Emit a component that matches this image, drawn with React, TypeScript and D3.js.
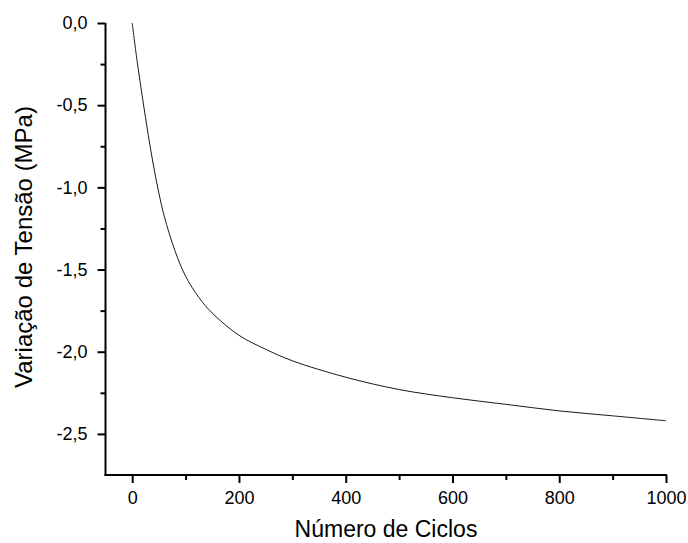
import React, { useEffect, useRef } from "react";
import * as d3 from "d3";

// cycles (x) and stress variation in MPa (y)
const cycles = [0, 10, 20, 30, 40, 50, 60, 80, 100, 125, 150, 200, 250, 300, 400, 500, 600, 700, 800, 900, 1000];
const stress = [0, -0.25, -0.47, -0.68, -0.87, -1.035, -1.175, -1.385, -1.54, -1.67, -1.765, -1.9, -1.985, -2.055, -2.155, -2.23, -2.28, -2.32, -2.36, -2.39, -2.42];

const xTicks = [0, 200, 400, 600, 800, 1000];
const xMinorTicks = [100, 300, 500, 700, 900];
const yTicks = [0, -0.5, -1.0, -1.5, -2.0, -2.5];
const yMinorTicks = [-0.25, -0.75, -1.25, -1.75, -2.25];

const xTitle = "Número de Ciclos";
const yTitle = "Variação de Tensão (MPa)";

const W = 688;
const H = 543;
const FONT = "'Liberation Sans', Arial, sans-serif";

const ptLocale = d3.formatLocale({
	decimal: ",",
	thousands: ".",
	grouping: [3],
	currency: ["", ""],
	minus: "-",
});
const fmtY = ptLocale.format(".1f");

export default function App() {
	const svgRef = useRef<SVGSVGElement>(null);

	useEffect(() => {
		const root = d3.select(svgRef.current);
		root.selectAll("*").remove();

		const left = 105.5;
		const right = 666;
		const top = 23;
		const bottom = 475;

		const x = d3.scaleLinear().domain([-50, 1000]).range([left, right]);
		const y = d3.scaleLinear().domain([-2.75, 0]).range([bottom, top]);

		const data = cycles.map((c, i) => ({ c, s: stress[i] }));

		// curve
		const line = d3
			.line<{ c: number; s: number }>()
			.x((d) => x(d.c))
			.y((d) => y(d.s))
			.curve(d3.curveCatmullRom.alpha(0.5));

		root
			.append("path")
			.datum(data)
			.attr("d", line)
			.attr("fill", "none")
			.attr("stroke", "#1a1a1a")
			.attr("stroke-width", 1);

		// x axis
		const gx = root.append("g").attr("transform", `translate(0,${bottom})`);
		gx.call(
			d3.axisBottom(x).tickValues(xMinorTicks).tickSize(5).tickFormat(() => "")
		);
		gx.call((g) =>
			g
				.append("g")
				.call(d3.axisBottom(x).tickValues(xTicks).tickSize(8).tickPadding(8).tickFormat(d3.format("d")))
		);
		gx.selectAll(".domain").remove();
		gx.append("line")
			.attr("x1", left - 1)
			.attr("x2", right + 1)
			.attr("stroke", "#000")
			.attr("stroke-width", 2);

		// y axis
		const gy = root.append("g").attr("transform", `translate(${left},0)`);
		gy.call(
			d3.axisLeft(y).tickValues(yMinorTicks).tickSize(5).tickFormat(() => "")
		);
		gy.call((g) =>
			g
				.append("g")
				.call(d3.axisLeft(y).tickValues(yTicks).tickSize(8).tickPadding(10).tickFormat((d) => fmtY(d as number)))
		);
		gy.selectAll(".domain").remove();
		gy.append("line")
			.attr("y1", top)
			.attr("y2", bottom + 1)
			.attr("stroke", "#000")
			.attr("stroke-width", 2);

		root.selectAll(".tick line").attr("stroke", "#000").attr("stroke-width", 2);
		root
			.selectAll(".tick text")
			.attr("fill", "#000")
			.style("font-family", FONT)
			.style("font-size", "18px");

		// titles
		root
			.append("text")
			.attr("x", 386)
			.attr("y", 537)
			.attr("text-anchor", "middle")
			.style("font-family", FONT)
			.style("font-size", "23px")
			.text(xTitle);

		root
			.append("text")
			.attr("transform", `translate(32,247) rotate(-90)`)
			.attr("text-anchor", "middle")
			.style("font-family", FONT)
			.style("font-size", "24px")
			.text(yTitle);
	}, []);

	return (
		<svg
			ref={svgRef}
			width={W}
			height={H}
			style={{ position: "absolute", left: 0, top: 0, background: "#fff" }}
		/>
	);
}
